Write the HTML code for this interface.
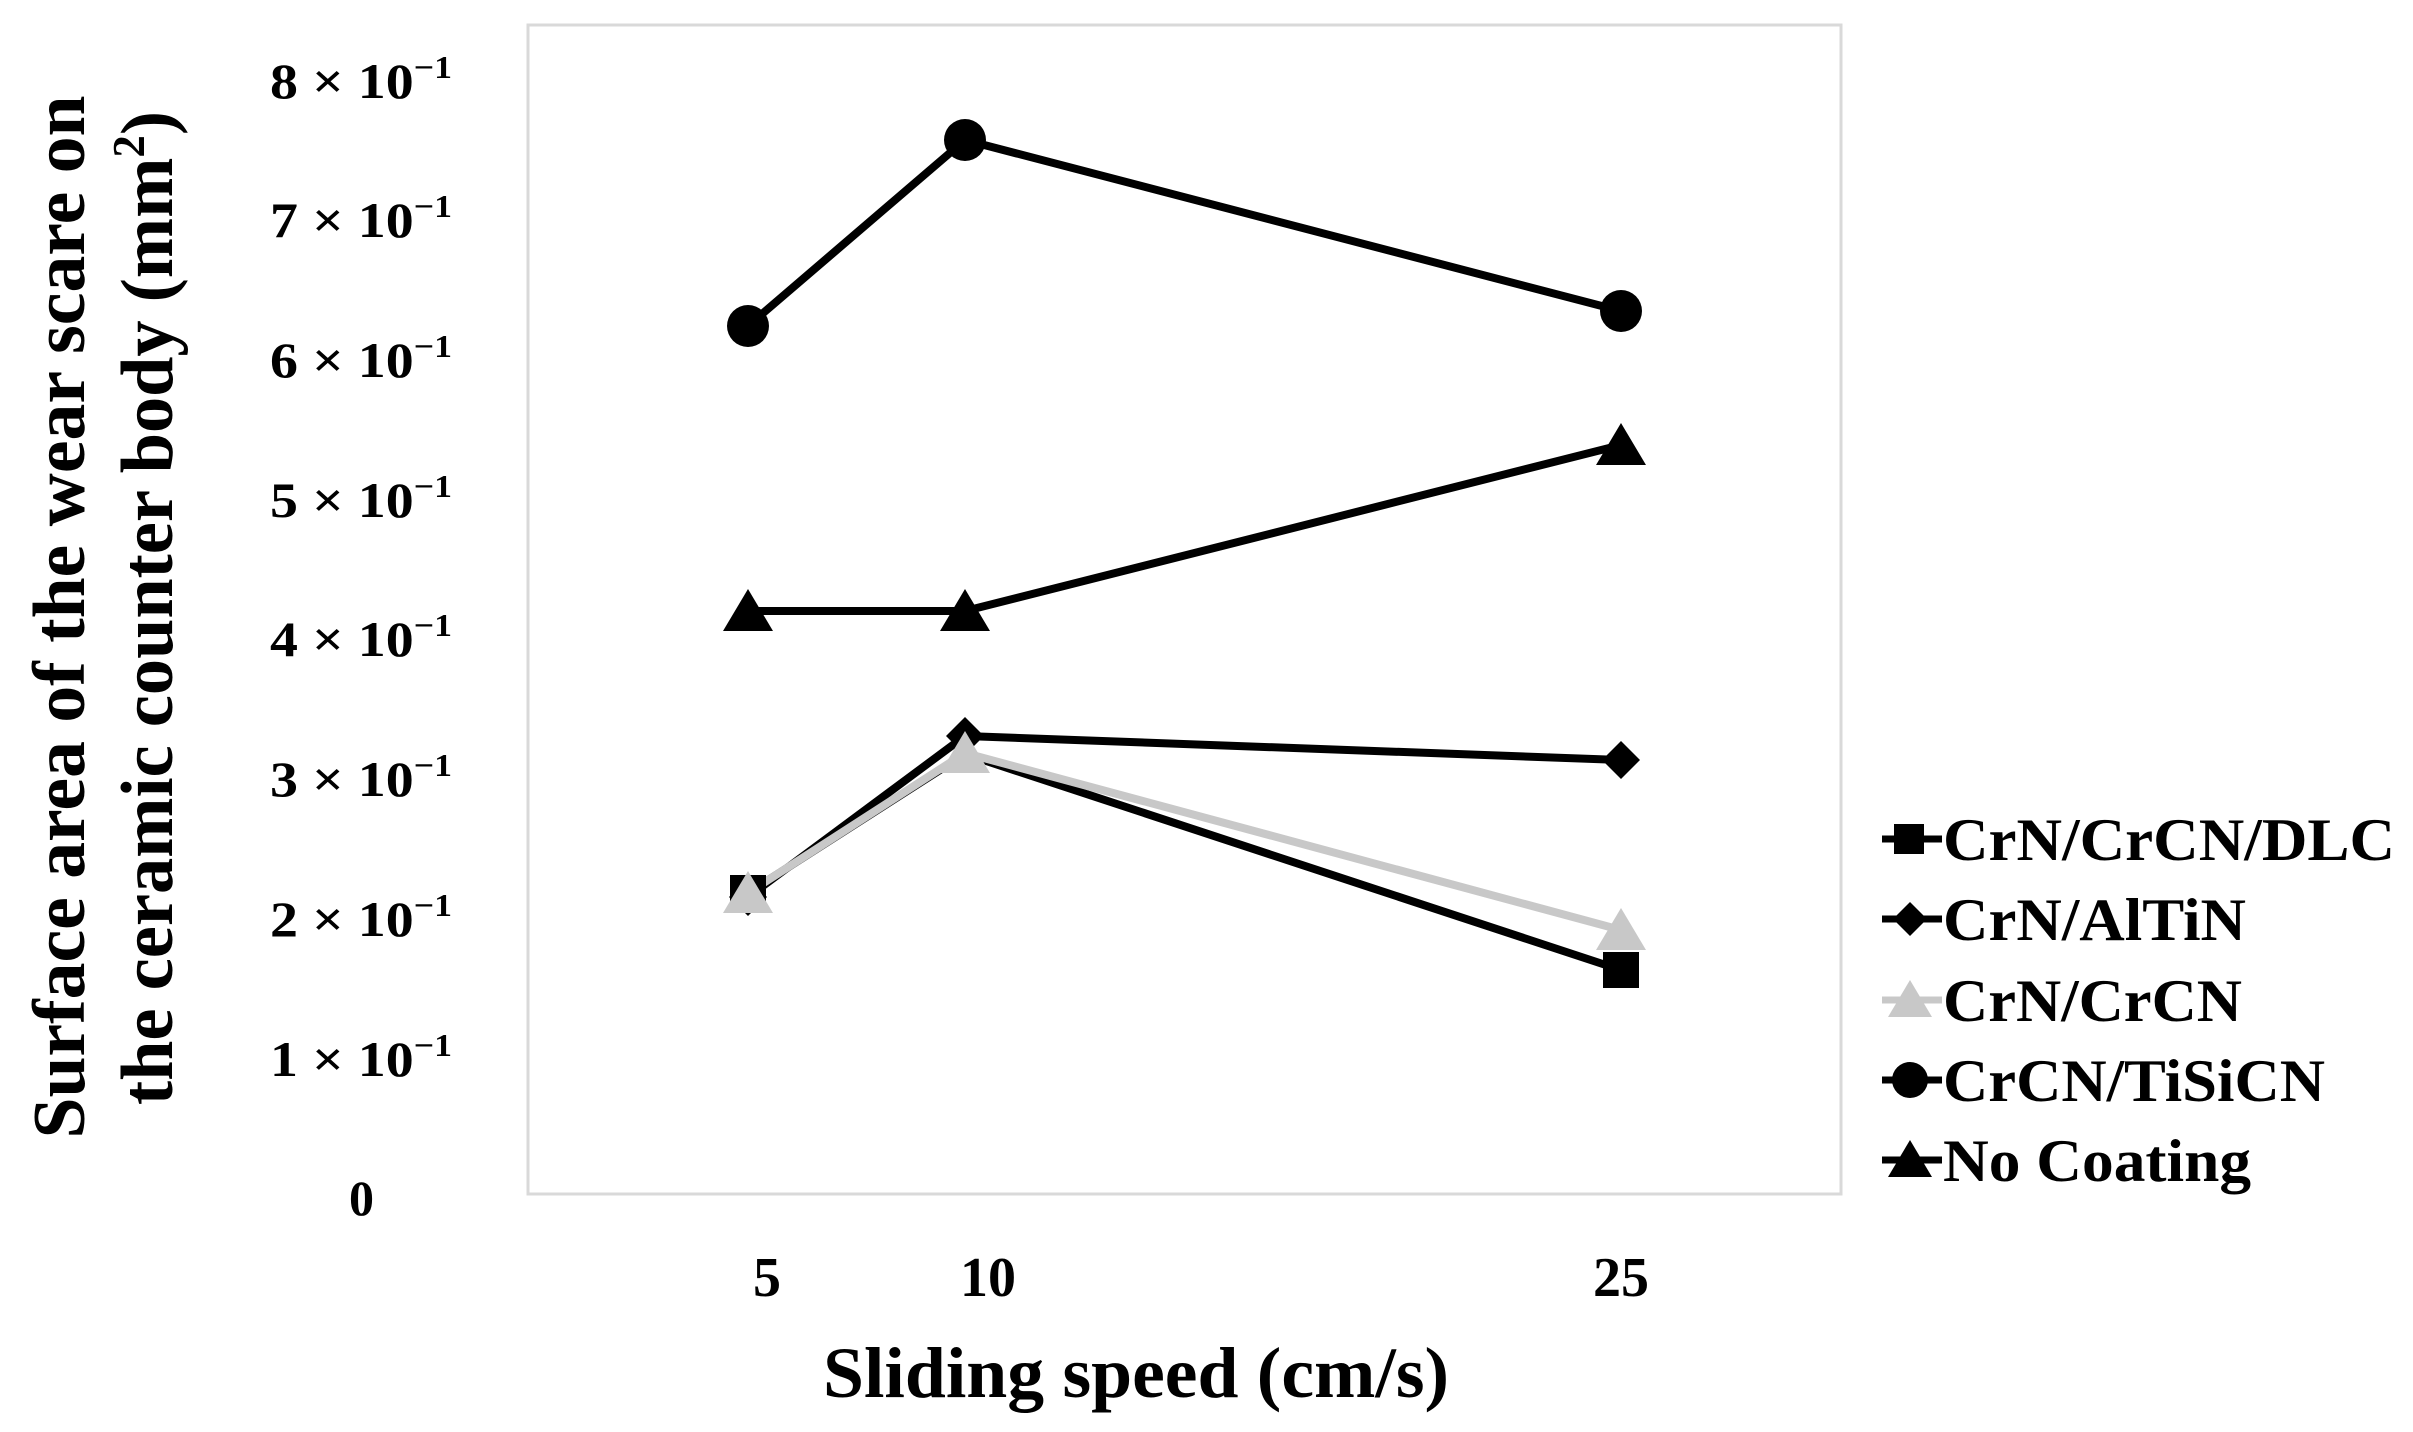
<!DOCTYPE html>
<html><head><meta charset="utf-8"><style>html,body{margin:0;padding:0;background:#fff}svg{display:block}</style></head>
<body>
<svg width="2413" height="1432" viewBox="0 0 2413 1432" xmlns="http://www.w3.org/2000/svg" font-family="Liberation Serif, serif" font-weight="bold">
<rect x="528" y="25" width="1313" height="1169" fill="none" stroke="#d9d9d9" stroke-width="3"/>
<g font-size="50" text-anchor="end" lengthAdjust="spacingAndGlyphs">
<text x="374" y="1215">0</text>
<text x="452" y="1076" textLength="182" lengthAdjust="spacingAndGlyphs">1 × 10<tspan font-size="32" dy="-20">−1</tspan></text>
<text x="452" y="936" textLength="182" lengthAdjust="spacingAndGlyphs">2 × 10<tspan font-size="32" dy="-20">−1</tspan></text>
<text x="452" y="796" textLength="182" lengthAdjust="spacingAndGlyphs">3 × 10<tspan font-size="32" dy="-20">−1</tspan></text>
<text x="452" y="656" textLength="182" lengthAdjust="spacingAndGlyphs">4 × 10<tspan font-size="32" dy="-20">−1</tspan></text>
<text x="452" y="517" textLength="182" lengthAdjust="spacingAndGlyphs">5 × 10<tspan font-size="32" dy="-20">−1</tspan></text>
<text x="452" y="377" textLength="182" lengthAdjust="spacingAndGlyphs">6 × 10<tspan font-size="32" dy="-20">−1</tspan></text>
<text x="452" y="237" textLength="182" lengthAdjust="spacingAndGlyphs">7 × 10<tspan font-size="32" dy="-20">−1</tspan></text>
<text x="452" y="98" textLength="182" lengthAdjust="spacingAndGlyphs">8 × 10<tspan font-size="32" dy="-20">−1</tspan></text>
</g>
<g font-size="56" text-anchor="middle">
<text x="767" y="1296">5</text>
<text x="988" y="1296">10</text>
<text x="1621" y="1296">25</text>
</g>
<text x="1136" y="1397" font-size="72" text-anchor="middle" textLength="626" lengthAdjust="spacingAndGlyphs">Sliding speed (cm/s)</text>
<text transform="translate(84,617) rotate(-90)" font-size="74" text-anchor="middle" textLength="1043" lengthAdjust="spacingAndGlyphs">Surface area of the wear scare on</text>
<text transform="translate(172,608) rotate(-90)" font-size="74" text-anchor="middle" textLength="994" lengthAdjust="spacingAndGlyphs">the ceramic counter body (mm<tspan font-size="46" dy="-28">2</tspan><tspan dy="28">)</tspan></text>
<g fill="none" stroke-width="8" stroke-linejoin="round">
<polyline points="748,326 965,140 1621,311" stroke="#000"/>
<polyline points="748,611 965,611 1621,445" stroke="#000"/>
<polyline points="748,897 965,736 1621,760" stroke="#000"/>
<polyline points="748,893 965,754 1621,970" stroke="#000"/>
<polyline points="748,893 965,753 1621,930" stroke="#c8c8c8"/>
</g>
<g fill="#000">
<circle cx="748" cy="326" r="21"/><circle cx="965" cy="140" r="21"/><circle cx="1621" cy="311" r="21"/>
<polygon points="748,589 773,631 723,631"/><polygon points="965,589 990,631 940,631"/><polygon points="1621,423 1646,465 1596,465"/>
<polygon points="1621,741 1640,760 1621,779 1602,760"/><polygon points="965,717 984,736 965,755 946,736"/><polygon points="748,878 767,897 748,916 729,897"/>
<rect x="730" y="875" width="36" height="36"/><rect x="1603" y="952" width="36" height="36"/>
</g>
<g fill="#c8c8c8">
<polygon points="748,871 773,913 723,913"/><polygon points="965,731 990,773 940,773"/><polygon points="1621,908 1646,950 1596,950"/>
</g>
<g stroke-width="7">
<line x1="1882" y1="839" x2="1942" y2="839" stroke="#000"/>
<line x1="1882" y1="919" x2="1942" y2="919" stroke="#000"/>
<line x1="1882" y1="1000" x2="1942" y2="1000" stroke="#c8c8c8"/>
<line x1="1882" y1="1080" x2="1942" y2="1080" stroke="#000"/>
<line x1="1882" y1="1160" x2="1942" y2="1160" stroke="#000"/>
</g>
<rect x="1894" y="824" width="30" height="30" fill="#000"/>
<polygon points="1910,902 1927,919 1910,936 1893,919" fill="#000"/>
<polygon points="1910,980 1932,1017 1888,1017" fill="#c8c8c8"/>
<circle cx="1910" cy="1080" r="18" fill="#000"/>
<polygon points="1910,1140 1932,1177 1888,1177" fill="#000"/>
<g font-size="60">
<text x="1943" y="860" textLength="452" lengthAdjust="spacingAndGlyphs">CrN/CrCN/DLC</text>
<text x="1943" y="940" textLength="303" lengthAdjust="spacingAndGlyphs">CrN/AlTiN</text>
<text x="1943" y="1021" textLength="299" lengthAdjust="spacingAndGlyphs">CrN/CrCN</text>
<text x="1943" y="1101" textLength="382" lengthAdjust="spacingAndGlyphs">CrCN/TiSiCN</text>
<text x="1943" y="1181" textLength="308" lengthAdjust="spacingAndGlyphs">No Coating</text>
</g>
</svg>
</body></html>
